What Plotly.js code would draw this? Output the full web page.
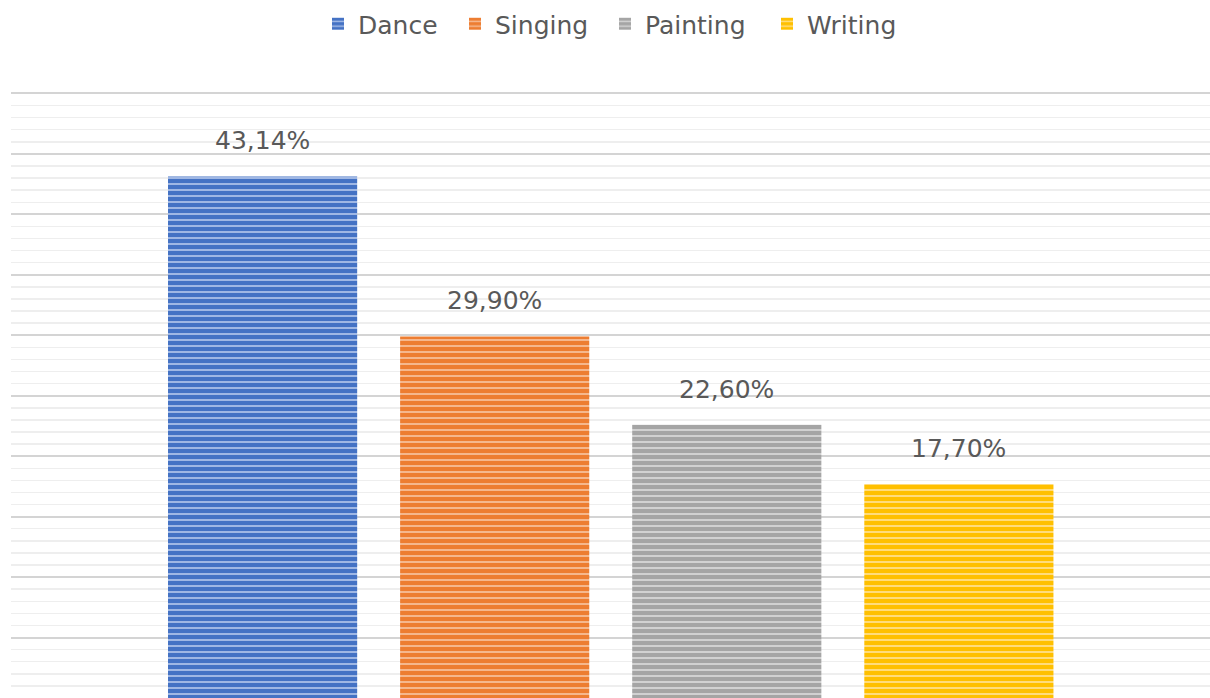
<!DOCTYPE html>
<html>
<head>
<meta charset="utf-8">
<script src="https://cdn.plot.ly/plotly-3.0.1.min.js"></script>
<style>html,body{margin:0;padding:0;background:#fff;}#chart{width:1210px;height:698px;}</style>
</head>
<body>
<div id="chart"></div>
<script>
var categories = ["Dance", "Singing", "Painting", "Writing"];
var values = [43.14, 29.90, 22.60, 17.70];
var colors = ["#4472C4", "#ED7D31", "#A5A5A5", "#FFC000"];
var stripeColors = ["#A9BFE8", "#F6BE98", "#D6D6D6", "#FFE08A"];

var legendIds = ["legend", "legend2", "legend3", "legend4"];
var legendX = [318, 455, 605, 767];

var FONT = "DejaVu Sans, Verdana, sans-serif";

var traces = categories.map(function (c, i) {
  return {
    type: "bar",
    name: c,
    x: [c],
    y: [values[i]],
    legend: legendIds[i],
    marker: {
      color: colors[i],
      line: {width: 0},
      pattern: {shape: "-", bgcolor: colors[i], fgcolor: stripeColors[i], size: 6, solidity: 0.3, fillmode: "replace"}
    },
    hoverinfo: "skip"
  };
});

var annotations = categories.map(function (c, i) {
  return {
    x: c, y: values[i], xref: "x", yref: "y",
    text: values[i].toFixed(2).replace(".", ",") + "%",
    showarrow: false, yanchor: "bottom", yshift: 19,
    font: {family: FONT, size: 25, color: "#595959"}
  };
});

var layout = {
  width: 1210, height: 698,
  margin: {l: 11, r: 0, t: 85, b: 0, pad: 0},
  paper_bgcolor: "#ffffff", plot_bgcolor: "#ffffff",
  barmode: "overlay", bargap: 0.185,
  showlegend: true,
  xaxis: {
    type: "category", categoryorder: "array", categoryarray: categories,
    range: [-1.084, 4.082], showticklabels: false, showgrid: false, zeroline: false,
    showline: false, ticks: ""
  },
  yaxis: {
    range: [0, 50.7], dtick: 5, showticklabels: false, ticks: "",
    showgrid: true, gridcolor: "#D4D4D4", gridwidth: 2, zeroline: false, showline: false,
    minor: {dtick: 1, showgrid: true, gridcolor: "#EEEEEE", gridwidth: 1.5}
  },
  annotations: annotations
};

legendIds.forEach(function (id, i) {
  layout[id] = {
    orientation: "h", xref: "container", yref: "container",
    x: legendX[i] / 1210, xanchor: "left", y: 1 - 24 / 698, yanchor: "middle",
    bgcolor: "rgba(0,0,0,0)", borderwidth: 0,
    font: {family: FONT, size: 25, color: "#595959"},
    itemclick: false, itemdoubleclick: false
  };
});

Plotly.newPlot("chart", traces, layout, {displayModeBar: false, staticPlot: true});
</script>
</body>
</html>
